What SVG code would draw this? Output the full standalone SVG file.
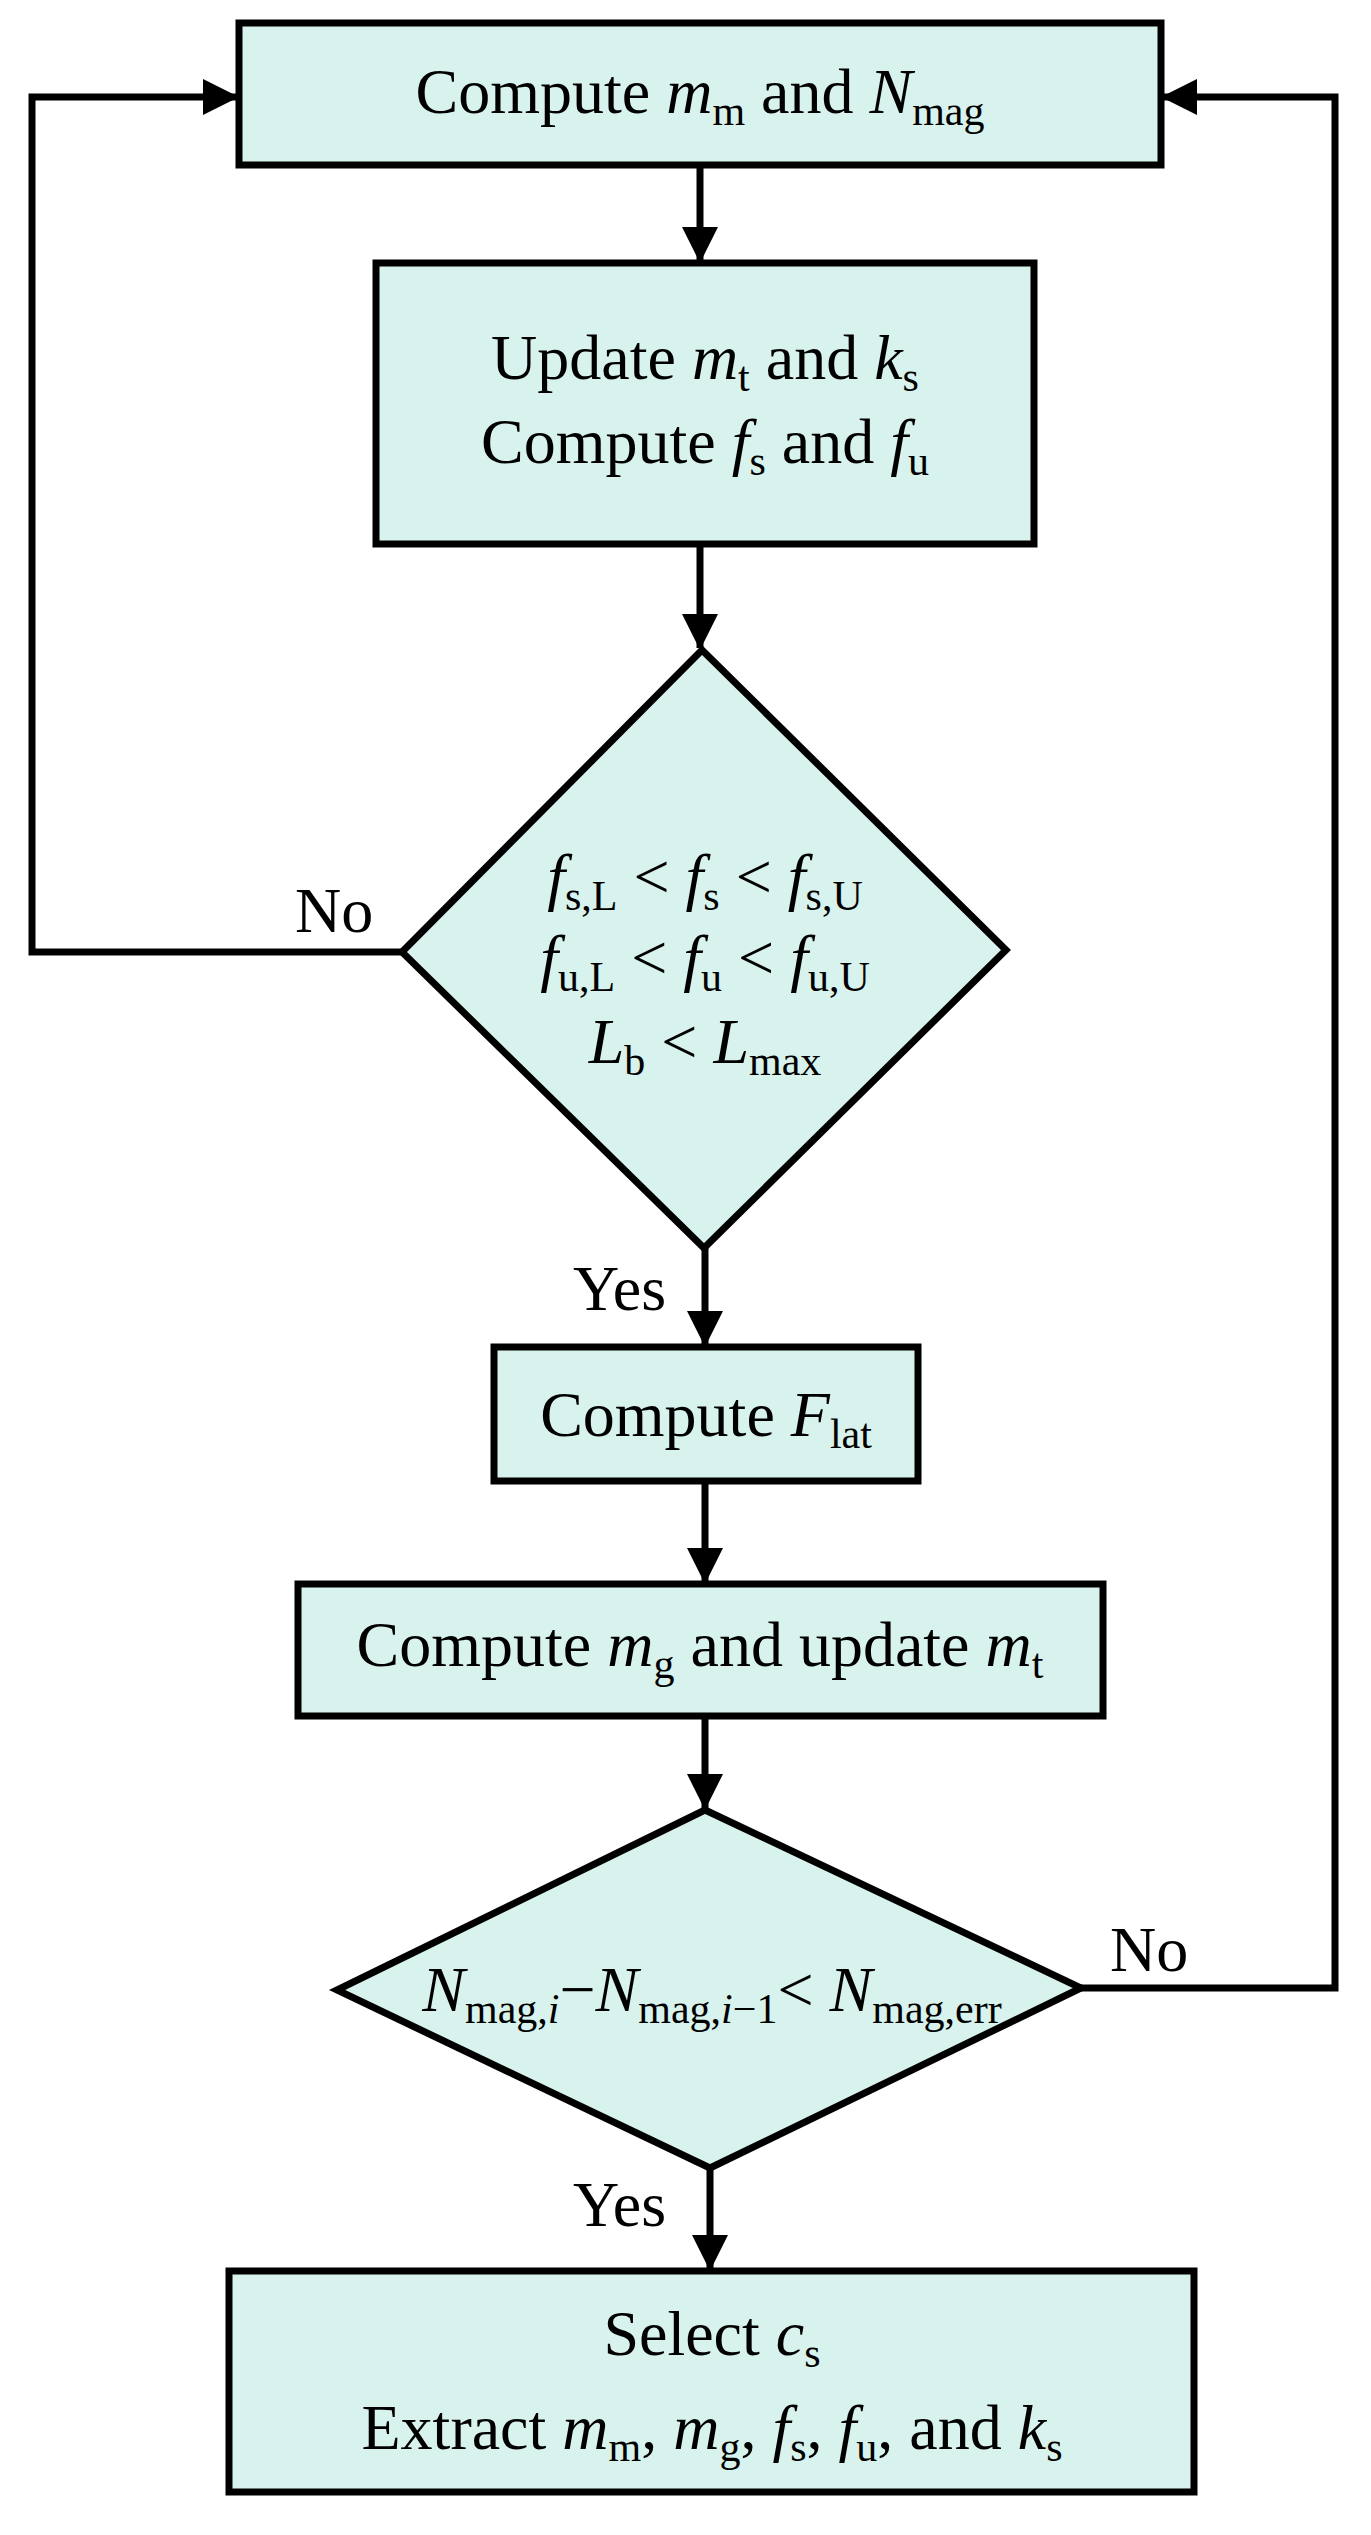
<svg xmlns="http://www.w3.org/2000/svg" width="1371" height="2535" viewBox="0 0 1371 2535">
<style>
.n{fill:#d8f2ed;stroke:#000;stroke-width:7}
.c{fill:none;stroke:#000;stroke-width:7}
text{font-family:"Liberation Serif","Times New Roman",serif;font-size:64px;fill:#000}
.t{text-anchor:middle}
.i{font-style:italic}
.s{font-size:42px}
</style>
<defs>
<marker id="a" markerUnits="userSpaceOnUse" markerWidth="36" markerHeight="36" refX="34" refY="18" orient="auto">
<path d="M0,0 L36,18 L0,36 Z" fill="#000"/>
</marker>
</defs>
<g id="connectors">
<path class="c" d="M700,165 V261" marker-end="url(#a)"/>
<path class="c" d="M700,544 V648" marker-end="url(#a)"/>
<path class="c" d="M705,1248 V1345" marker-end="url(#a)"/>
<path class="c" d="M705,1481 V1582" marker-end="url(#a)"/>
<path class="c" d="M705,1716 V1808" marker-end="url(#a)"/>
<path class="c" d="M710,2168 V2269" marker-end="url(#a)"/>
<path class="c" d="M402,952 H32 V97 H237" marker-end="url(#a)"/>
<path class="c" d="M1081,1988 H1335 V97 H1163" marker-end="url(#a)"/>
<text x="295" y="932">No</text>
<text x="573" y="1310">Yes</text>
<text x="1110" y="1971">No</text>
<text x="573" y="2226">Yes</text>
</g>
<g id="n1">
<rect class="n" x="239" y="23" width="922" height="142"/>
<text class="t" x="700" y="113">Compute <tspan class="i">m</tspan><tspan class="s" dy="12">m</tspan><tspan dy="-12"> and </tspan><tspan class="i">N</tspan><tspan class="s" dy="12">mag</tspan></text>
</g>
<g id="n2">
<rect class="n" x="376" y="263" width="658" height="281"/>
<text class="t" x="705" y="379">Update <tspan class="i">m</tspan><tspan class="s" dy="12">t</tspan><tspan dy="-12"> and </tspan><tspan class="i">k</tspan><tspan class="s" dy="12">s</tspan></text>
<text class="t" x="705" y="463">Compute <tspan class="i">f</tspan><tspan class="s" dy="12">s</tspan><tspan dy="-12"> and </tspan><tspan class="i">f</tspan><tspan class="s" dy="12">u</tspan></text>
</g>
<g id="d1">
<polygon class="n" points="702,650 1006,950 704,1248 402,952"/>
<text class="t" x="705" y="898"><tspan class="i">f</tspan><tspan class="s" dy="12">s,L</tspan><tspan dy="-12"> &lt; </tspan><tspan class="i">f</tspan><tspan class="s" dy="12">s</tspan><tspan dy="-12"> &lt; </tspan><tspan class="i">f</tspan><tspan class="s" dy="12">s,U</tspan></text>
<text class="t" x="705" y="979"><tspan class="i">f</tspan><tspan class="s" dy="12">u,L</tspan><tspan dy="-12"> &lt; </tspan><tspan class="i">f</tspan><tspan class="s" dy="12">u</tspan><tspan dy="-12"> &lt; </tspan><tspan class="i">f</tspan><tspan class="s" dy="12">u,U</tspan></text>
<text class="t" x="705" y="1063"><tspan class="i">L</tspan><tspan class="s" dy="12">b</tspan><tspan dy="-12"> &lt; </tspan><tspan class="i">L</tspan><tspan class="s" dy="12">max</tspan></text>
</g>
<g id="n3">
<rect class="n" x="494" y="1347" width="424" height="134"/>
<text class="t" x="706" y="1436">Compute <tspan class="i">F</tspan><tspan class="s" dy="12">lat</tspan></text>
</g>
<g id="n4">
<rect class="n" x="298" y="1584" width="805" height="132"/>
<text class="t" x="700" y="1666">Compute <tspan class="i">m</tspan><tspan class="s" dy="12">g</tspan><tspan dy="-12"> and update </tspan><tspan class="i">m</tspan><tspan class="s" dy="12">t</tspan></text>
</g>
<g id="d2">
<polygon class="n" points="705,1810 1081,1988 710,2168 337,1990"/>
<text class="t" x="712" y="2011"><tspan class="i">N</tspan><tspan class="s" dy="12">mag,<tspan class="i">i</tspan></tspan><tspan dy="-12">−</tspan><tspan class="i">N</tspan><tspan class="s" dy="12">mag,<tspan class="i">i</tspan>−1</tspan><tspan dy="-12">&lt; </tspan><tspan class="i">N</tspan><tspan class="s" dy="12">mag,err</tspan></text>
</g>
<g id="n5">
<rect class="n" x="229" y="2271" width="965" height="221"/>
<text class="t" x="712" y="2355">Select <tspan class="i">c</tspan><tspan class="s" dy="12">s</tspan></text>
<text class="t" x="712" y="2449">Extract <tspan class="i">m</tspan><tspan class="s" dy="12">m</tspan><tspan dy="-12">, </tspan><tspan class="i">m</tspan><tspan class="s" dy="12">g</tspan><tspan dy="-12">, </tspan><tspan class="i">f</tspan><tspan class="s" dy="12">s</tspan><tspan dy="-12">, </tspan><tspan class="i">f</tspan><tspan class="s" dy="12">u</tspan><tspan dy="-12">, and </tspan><tspan class="i">k</tspan><tspan class="s" dy="12">s</tspan></text>
</g>
</svg>
